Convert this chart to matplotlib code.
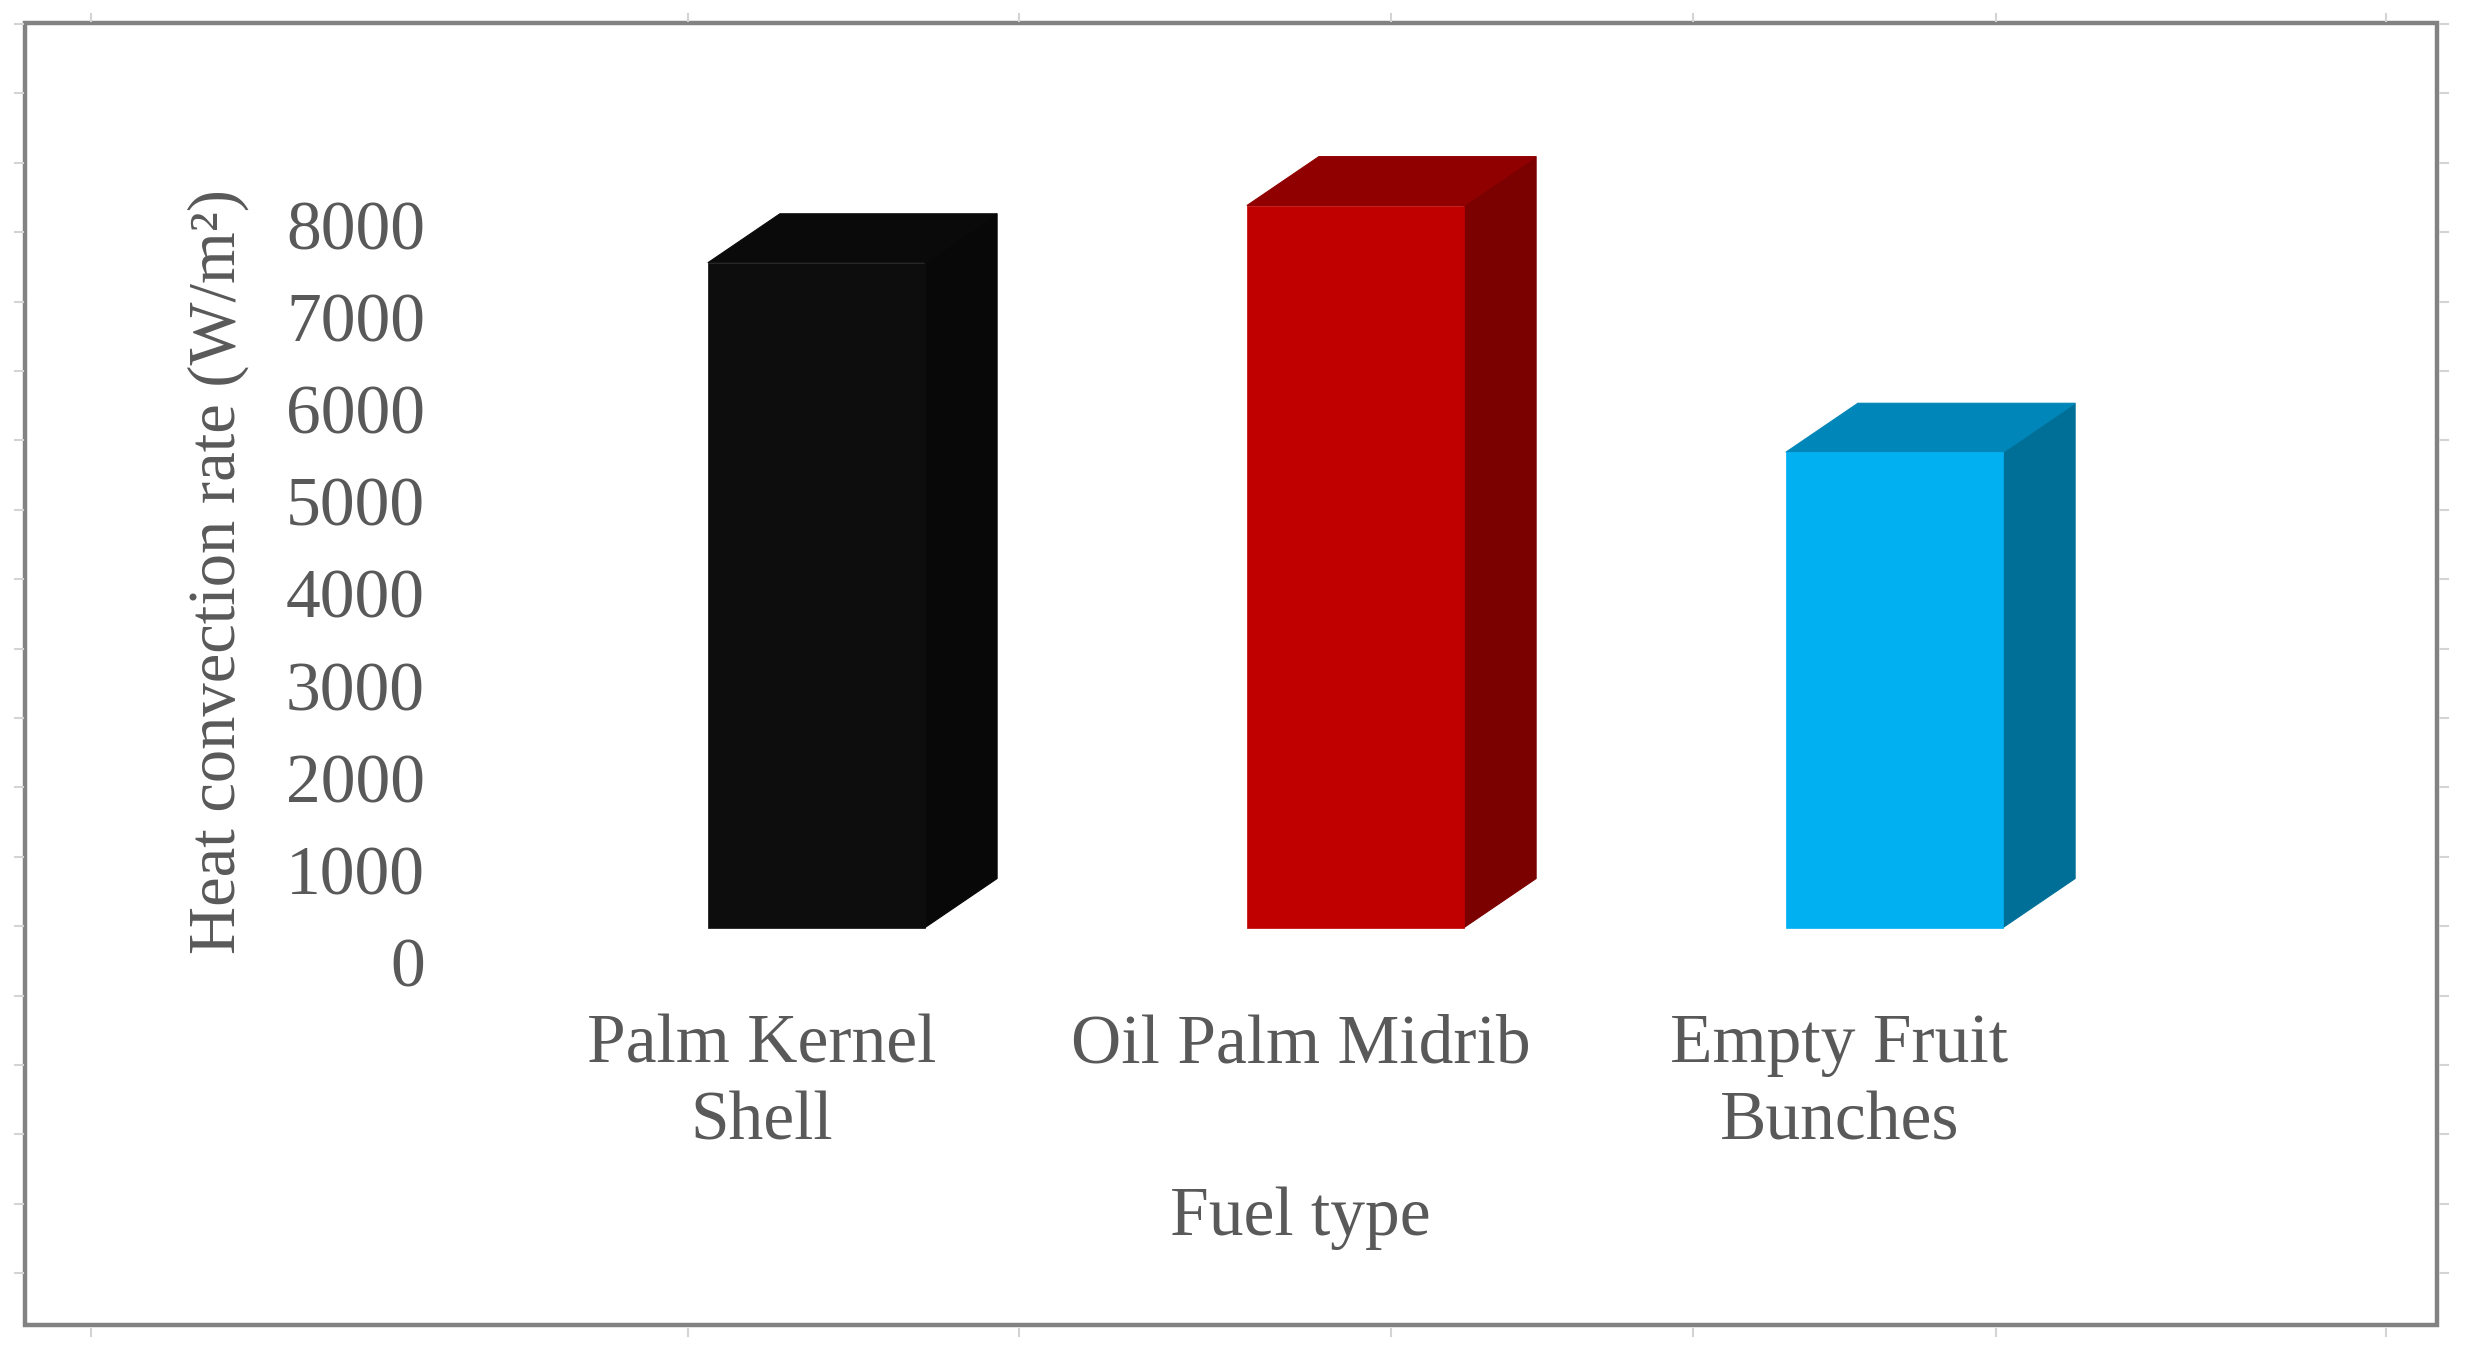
import matplotlib
matplotlib.use('Agg')
import matplotlib.pyplot as plt
from matplotlib.patches import Polygon, Rectangle
from matplotlib.lines import Line2D

# data
fuels = ['Palm Kernel\nShell', 'Oil Palm Midrib', 'Empty Fruit\nBunches']
heat_rate = [7210, 7830, 5155]
y_ticks = [0, 1000, 2000, 3000, 4000, 5000, 6000, 7000, 8000]

front_colors = ['#0d0d0d', '#c00000', '#00b0f0']
top_colors = ['#0a0a0a', '#900000', '#0086b8']
side_colors = ['#080808', '#7b0000', '#006f98']

W, H, DPI = 2467, 1360, 100
TEXT = '#595959'

plt.rcParams['font.family'] = ['Liberation Serif', 'DejaVu Serif']


def px_box(left, top, width, height):
    # pixel box (from top-left) -> figure fraction rect
    return [left / W, 1 - (top + height) / H, width / W, height / H]


fig = plt.figure(figsize=(W / DPI, H / DPI), dpi=DPI)

# axes geometry in pixels
ax_w, ax_h = 1724.8, 829.8
ax_left, ax_base = 493.1, 927.5
xlim = (-0.6, 2.6)
ylim = (0, 9000)

# front "floor" axes carrying the labels (shifted like the 3D floor edge)
ax_lbl = fig.add_axes(px_box(ax_left - 55, ax_base + 35 - ax_h, ax_w, ax_h))
ax_lbl.set_xlim(*xlim)
ax_lbl.set_ylim(*ylim)
ax_lbl.patch.set_visible(False)
for s in ax_lbl.spines.values():
    s.set_visible(False)
ax_lbl.set_yticks(y_ticks)
ax_lbl.set_yticklabels([str(t) for t in y_ticks])
ax_lbl.set_xticks(range(len(fuels)))
ax_lbl.set_xticklabels(fuels, linespacing=1.29)
ax_lbl.tick_params(axis='y', length=0, pad=9.4, labelsize=50, labelcolor=TEXT)
ax_lbl.tick_params(axis='x', length=0, pad=37, labelsize=50, labelcolor=TEXT)

# bars axes
ax = fig.add_axes(px_box(ax_left, ax_base - ax_h, ax_w, ax_h))
ax.set_xlim(*xlim)
ax.set_ylim(*ylim)
ax.axis('off')

bar_w = 0.403
dx = 0.1336   # depth offset in x data units
dy = 531      # depth offset in y data units

for i, v in enumerate(heat_rate):
    x0 = i - bar_w / 2
    x1 = i + bar_w / 2
    side = Polygon([(x1, 0), (x1 + dx, dy), (x1 + dx, v + dy), (x1, v)], closed=True,
                   facecolor=side_colors[i], edgecolor=side_colors[i], lw=0.8, clip_on=False)
    top = Polygon([(x0, v), (x0 + dx, v + dy), (x1 + dx, v + dy), (x1, v)], closed=True,
                  facecolor=top_colors[i], edgecolor=top_colors[i], lw=0.8, clip_on=False)
    ax.add_patch(side)
    ax.add_patch(top)
    ax.bar(i, v, width=bar_w, color=front_colors[i], edgecolor=front_colors[i],
           lw=0.5, clip_on=False, zorder=3)

fig.text(1300.5 / W, 1 - 1235 / H, 'Fuel type', ha='center', va='baseline',
         fontsize=50, color=TEXT)
fig.text(218 / W, 1 - 572 / H, 'Heat convection rate (W/m²)', rotation=90,
         ha='center', va='center', fontsize=48, color=TEXT)

# chart frame
fig.add_artist(Rectangle((25 / W, 1 - 1325 / H), (2437 - 25) / W, (1325 - 23) / H,
                         transform=fig.transFigure, fill=False,
                         edgecolor='#828282', linewidth=3.2))

# faint page tick marks outside the frame
tick_c = '#d4d4d4'
for x in [91, 688, 1019, 1391, 1693, 1996, 2386]:
    fig.add_artist(Line2D([x / W, x / W], [1 - 14 / H, 1 - 21 / H], color=tick_c, lw=1.5))
    fig.add_artist(Line2D([x / W, x / W], [1 - 1329 / H, 1 - 1336 / H], color=tick_c, lw=1.5))
for k in range(19):
    y = 24 + 69.4 * k
    fig.add_artist(Line2D([15 / W, 23 / W], [1 - y / H, 1 - y / H], color=tick_c, lw=1.5))
    fig.add_artist(Line2D([2440 / W, 2448 / W], [1 - y / H, 1 - y / H], color=tick_c, lw=1.5))

fig.savefig('out.png', dpi=DPI, facecolor='white')
